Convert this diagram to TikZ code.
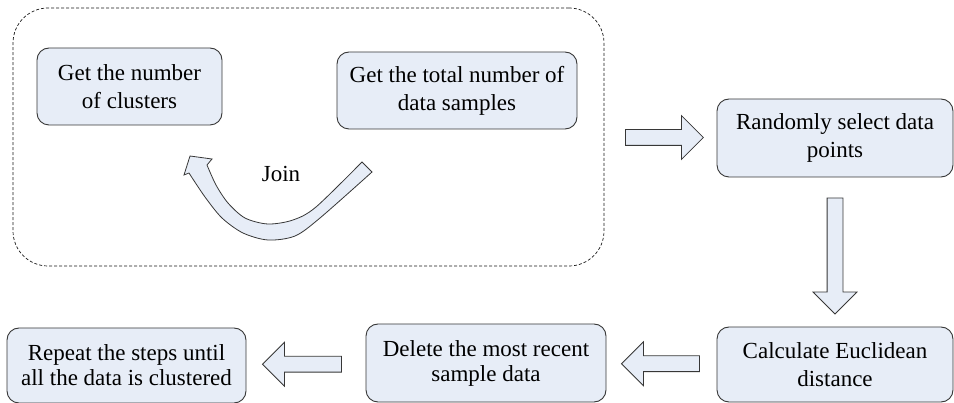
\documentclass[tikz,border=0pt]{standalone}
\usepackage{fontspec}
\setmainfont{Liberation Serif}
\usetikzlibrary{calc,shapes.arrows}
\definecolor{boxfill}{RGB}{231,237,247}
\definecolor{boxline}{RGB}{55,55,55}
\def\boxfont{\fontsize{23}{28}\selectfont}
\def\smallboxfont{\fontsize{23}{25}\selectfont}

\begin{document}
\begin{tikzpicture}[x=1pt, y=-1pt,
	stepbox/.style={draw=boxline, fill=boxfill, line width=0.9pt, rounded corners=12pt, align=center, inner sep=0pt, font=\boxfont},
	fatarrow/.style={single arrow, draw=boxline, fill=boxfill, line width=0.8pt, inner xsep=0pt, inner ysep=7.5pt, single arrow head extend=14pt},
	groupbox/.style={draw=black!90, dashed, dash pattern=on 3pt off 2pt, line width=0.7pt, rounded corners=35pt}]
	\useasboundingbox (0,0) rectangle (954,403);
	% dashed group
	\node[groupbox, minimum width=591pt, minimum height=258pt] (grp) at (308.5,137) {};
	\node[stepbox, minimum width=185pt, minimum height=77pt] (clusters) at (129.5,86.5) {Get the number\\of clusters};
	\node[stepbox, minimum width=240pt, minimum height=77pt] (samples) at (457,90.5) {Get the total number of\\data samples};
	\node[font=\boxfont] (join) at (281,174) {Join};
	% curved arrow inside the group
	\draw[draw=boxline, fill=boxfill, line width=0.8pt, line join=miter]
		(372,172) -- plot[smooth] coordinates {(362,162) (316,207) (293,220) (268,224) (245,218) (228,203) (216,185) (207,165)}
		-- (212,159) -- (190,156) -- (184,175)
		-- plot[smooth] coordinates {(189,173) (205,197) (222,218) (243,233) (268,240) (295,236) (320,218) (372,172)} -- cycle;
	% steps
	\node[stepbox, minimum width=236pt, minimum height=78pt] (select) at (835,138) {Randomly select data\\points};
	\node[stepbox, minimum width=236pt, minimum height=75pt] (euclid) at (835,364.5) {Calculate Euclidean\\distance};
	\node[stepbox, minimum width=240pt, minimum height=78pt, font=\smallboxfont] (delete) at (486,363) {Delete the most recent\\sample data};
	\node[stepbox, minimum width=239pt, minimum height=75pt, font=\smallboxfont] (repeat) at (126.5,365.5) {Repeat the steps until\\all the data is clustered};
	% block arrows
	\node[fatarrow, minimum height=78pt] (a1) at ($(grp.east)!0.5!(select.west)$) {};
	\node[fatarrow, minimum height=116pt, rotate=-90] (a2) at ($(select.south)!0.5!(euclid.north)$) {};
	\node[fatarrow, minimum height=78pt, rotate=180] (a3) at ($(euclid.west)!0.5!(delete.east)+(3,0)$) {};
	\node[fatarrow, minimum height=79pt, rotate=180] (a4) at ($(delete.west)!0.5!(repeat.east)$) {};
\end{tikzpicture}
\end{document}
